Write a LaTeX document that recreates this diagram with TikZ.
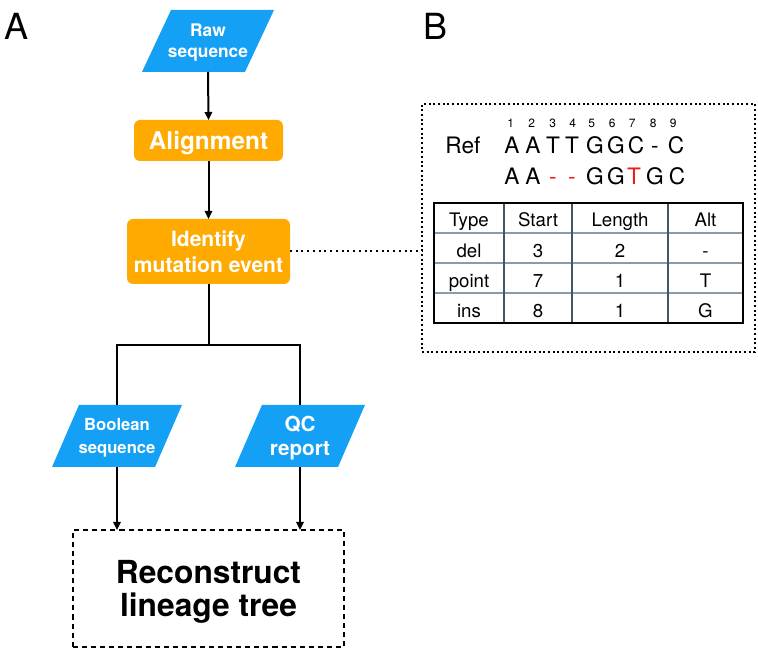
\documentclass[tikz,border=0pt]{standalone}
\usepackage{fontspec}
\setmainfont{TeX Gyre Heros}
\usetikzlibrary{arrows.meta,backgrounds,calc}
\definecolor{flowblue}{RGB}{20,160,245}
\definecolor{floworange}{RGB}{255,170,0}
\definecolor{rowgray}{RGB}{140,155,170}
\definecolor{colgray}{RGB}{70,85,100}
\definecolor{mutred}{RGB}{235,30,30}
\tikzset{
  every node/.style={inner sep=0pt, outer sep=0pt},
  para/.style={rectangle, minimum width=77.25pt, minimum height=46.5pt, text=white, font=\bfseries, align=center},
  procbox/.style={rectangle, rounded corners=4.5pt, fill=floworange, text=white, font=\bfseries, align=center},
  arr/.style={-{Triangle[length=6pt,width=5.5pt]}, line width=1.5pt},
  plainline/.style={line width=1.5pt},
  tcell/.style={font=\fontsize{14pt}{16pt}\selectfont, anchor=base},
  seqch/.style={font=\fontsize{17pt}{19pt}\selectfont, anchor=base},
  numch/.style={font=\fontsize{9pt}{10pt}\selectfont, anchor=base},
  panel/.style={font=\fontsize{27pt}{30pt}\selectfont}
}
\newcommand{\parafill}[2]{%
  \fill[flowblue] ([xshift=-#2]#1.south west) -- ([xshift=-#2]#1.south east) -- ([xshift=#2]#1.north east) -- ([xshift=#2]#1.north west) -- cycle;}
\begin{document}
\begin{tikzpicture}[x=0.75pt,y=-0.75pt]
\useasboundingbox (0,0) rectangle (758,652);

% panel labels
\node[panel] (labA) at (16.5,26) {A};
\node[panel] (labB) at (436,26) {B};

% flowchart nodes
\node[para, text depth=-3.3pt, font=\bfseries\fontsize{13pt}{15.75pt}\selectfont] (raw) at (208,41) {Raw\\sequence};
\node[procbox, text depth=-0.8pt, minimum width=111.75pt, minimum height=30.75pt, font=\bfseries\fontsize{18.3pt}{20pt}\selectfont] (align) at (208.5,140.5) {Alignment};
\node[procbox, minimum width=122.25pt, minimum height=48.75pt, font=\bfseries\fontsize{15.8pt}{19.5pt}\selectfont] (ident) at (208.5,251.5) {Identify\\mutation event};
\node[para, text depth=-5.4pt, font=\bfseries\fontsize{12.5pt}{17.25pt}\selectfont] (bool) at (117,436) {Boolean\\sequence};
\node[para, text depth=-6.4pt, font=\bfseries\fontsize{15.5pt}{18pt}\selectfont] (qc) at (300,436) {QC\\report};
\node[rectangle, draw, line width=1.9pt, dash pattern=on 3.8pt off 3pt, text depth=0.5pt, minimum width=203.25pt, minimum height=87.75pt, align=center, font=\bfseries\fontsize{23.8pt}{24.75pt}\selectfont] (recon) at (208.5,588.5) {Reconstruct\\lineage tree};

\begin{scope}[on background layer]
  \parafill{raw}{10.9pt}
  \parafill{bool}{10.1pt}
  \parafill{qc}{10.1pt}
\end{scope}

\coordinate (split) at (208.5,345);

\draw[arr] (raw.south) -- (align.north);
\draw[arr] (align.south) -- (ident.north);
\draw[plainline] (ident.south) -- (split);
\draw[plainline] (bool.north) |- (split) -| (qc.north);
\draw[arr] (bool.south) -- (bool.south |- recon.north);
\draw[arr] (qc.south) -- (qc.south |- recon.north);

% panel B box
\node[rectangle, draw, line width=1.5pt, dotted, minimum width=249.75pt, minimum height=186pt] (bbox) at (588.5,228) {};
\draw[line width=1.5pt, dash pattern=on 1.5pt off 2.8pt] (ident.east) -- (ident.east -| bbox.west);

% sequence header numbers
\foreach \n/\x in {1/510.7,2/531.7,3/552.7,4/572.7,5/591.7,6/612.3,7/632.3,8/653.3,9/673.3}{
  \node[numch] (num\n) at (\x,128) {\n};
}
\node[seqch] (reflab) at (463,154) {Ref};
\foreach \i/\c/\x in {1/A/512,2/A/533,3/T/553,4/T/572,5/G/595,6/G/616,7/C/636,8/-/655,9/C/676}{
  \node[seqch] (ref\i) at (\x,154) {\c};
}
\foreach \i/\c/\x/\col in {1/A/512/black,2/A/533/black,3/-/553/mutred,4/-/572/mutred,5/G/595/black,6/G/616/black,7/T/634/mutred,8/G/655/black,9/C/677/black}{
  \node[seqch, text=\col] (qry\i) at (\x,185) {\c};
}

% table
\draw[rowgray, line width=1.2pt] (434,233) -- (743,233);
\draw[rowgray, line width=1.2pt] (434,263) -- (743,263);
\draw[rowgray, line width=1.2pt] (434,293) -- (743,293);
\draw[colgray, line width=0.9pt] (504,203) -- (504,323);
\draw[colgray, line width=0.9pt] (572,203) -- (572,323);
\draw[colgray, line width=0.9pt] (668,203) -- (668,323);
\draw[black, line width=1.1pt] (434,203) rectangle (743,323);

\foreach \r/\y/\a/\b/\c/\d in {0/227/Type/Start/Length/Alt,1/257.5/del/3/2/-,2/287.5/point/7/1/T,3/317.5/ins/8/1/G}{
  \node[tcell] (t\r a) at (469,\y) {\a};
  \node[tcell] (t\r b) at (538,\y) {\b};
  \node[tcell] (t\r c) at (620,\y) {\c};
  \node[tcell] (t\r d) at (705.5,\y) {\d};
}
\end{tikzpicture}
\end{document}
